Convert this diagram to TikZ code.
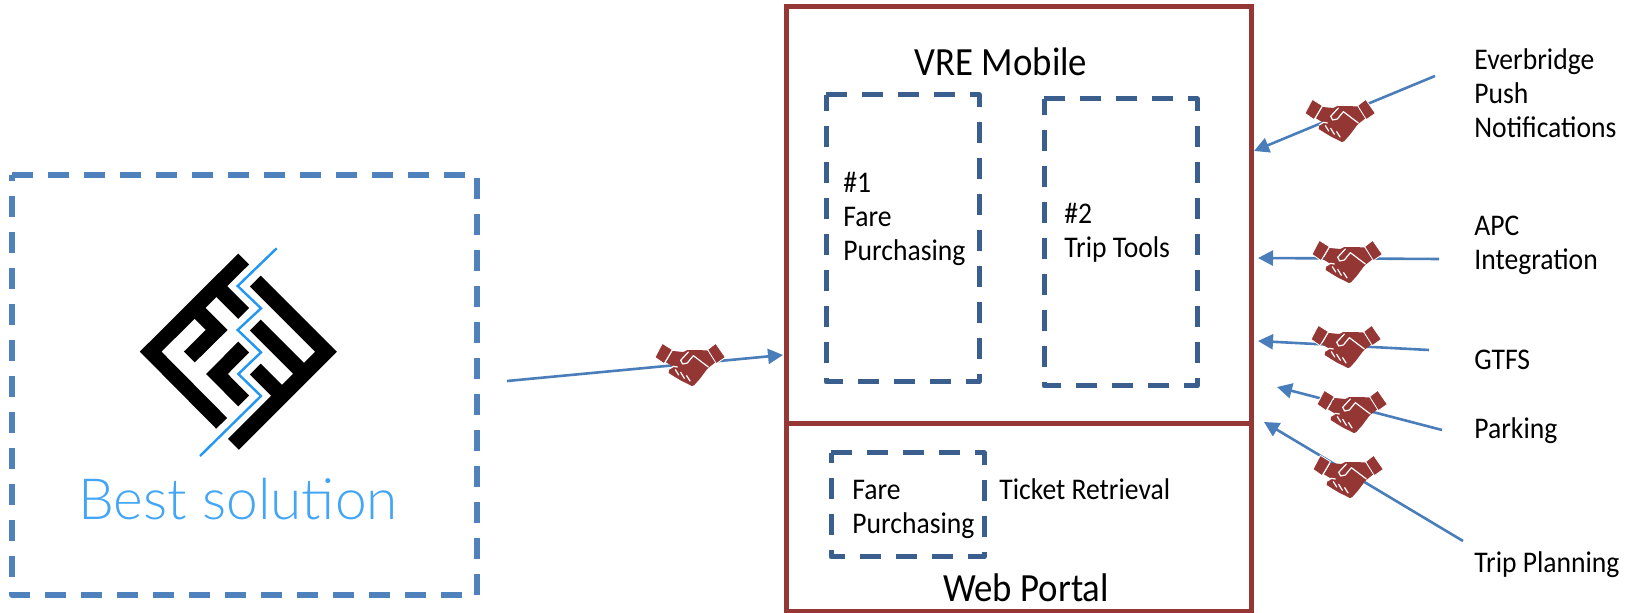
\documentclass[tikz,border=0pt]{standalone}
\usepackage{fontspec}
\usetikzlibrary{arrows.meta}
\setmainfont{Carlito}[FakeStretch=0.92]
\newfontfamily\lightf{Lato Light}
\definecolor{frred}{HTML}{953735}
\definecolor{hsred}{HTML}{943634}
\definecolor{dashdk}{HTML}{3A5F8F}
\definecolor{dashlt}{HTML}{4F81BD}
\definecolor{arrowb}{HTML}{4A7EBB}
\definecolor{logob}{HTML}{2196F3}
\definecolor{bestb}{HTML}{42A5F5}
\tikzset{
  x=0.5pt,y=-0.5pt,
  frame/.style={draw=frred,line width=2.5pt,line join=miter},
  dbox/.style={draw=dashdk,line width=2.5pt,line join=round,dash pattern=on 10.5pt off 7.5pt},
  dboxbig/.style={draw=dashlt,line width=2.7pt,line join=round,dash pattern=on 10.5pt off 7.5pt},
  link/.style={draw=arrowb,line width=1.3pt,-{Triangle[length=7.5pt,width=7.5pt]}},
  lab/.style={inner sep=0pt,anchor=west,align=left,font=\fontsize{15}{17}\selectfont,text=black},
  title/.style={inner sep=0pt,anchor=base,font=\fontsize{20}{24}\selectfont,text=black},
  maze/.style={draw=black,line width=7.67pt,line cap=butt,line join=miter},
  shake/.pic={
    \begin{scope}[x=0.16667pt,y=-0.16667pt]
      \fill[hsred] (-52,-36)--(-20,-33)--(-8,-39)--(52,-38)--(76,-2)--(56,14)--(50,20)--(30,47)--(12,67)--(5,69)--(-8,62)--(-25,54)--(-45,42)--(-64,30)--(-62,18)--(-52,10)--(-72,-2)--cycle;
      \fill[hsred,draw=white,line width=0.4pt] (-83,-59)--(-53,-40)--(-78,2)--(-105,-17)--cycle;
      \fill[hsred,draw=white,line width=0.4pt] (77,-59)--(106,-17)--(79,2)--(53,-40)--cycle;
      \draw[white,line width=0.6pt,line cap=round,line join=round]
        (-5,-33)--(-28,-8)--(-22,3)--(-8,0)--(10,-22)--(55,12);
      \draw[white,line width=0.6pt,line cap=round,line join=round]
        (-62,18)--(-50,10)--(-38,12);
      \draw[white,line width=0.6pt,line cap=round] (-44,20)--(-34,36);
      \draw[white,line width=0.6pt,line cap=round] (-28,28)--(-17,46);
      \draw[white,line width=0.6pt,line cap=round] (-10,38)--(0,54);
    \end{scope}
  }
}
\begin{document}
\begin{tikzpicture}
\useasboundingbox (0,0) rectangle (1633,613);
% boxes
\draw[dboxbig] (12,175)--(477,175)--(477,595)--(12,595)--cycle;
\draw[frame] (786,7) rectangle (1251,612);
\draw[frame] (786,424)--(1251,424);
\draw[dbox] (826,95)--(979,95)--(979,382)--(826,382)--cycle;
\draw[dbox] (1044,99)--(1197,99)--(1197,386)--(1044,386)--cycle;
\draw[dbox] (831,453)--(984,453)--(984,557)--(831,557)--cycle;
% logo
\begin{scope}[shift={(120,220)},x=0.16667pt,y=-0.16667pt]
  \draw[maze] (371,117)--(92,395)--(305,610);
  \draw[maze] (289,198)--(371,280);
  \draw[maze] (224,264)--(290,330)--(208,411);
  \draw[maze] (371,381)--(291,462)--(371,543);
  \draw[maze] (406,183)--(618,395)--(340,673);
  \draw[maze] (406,315)--(552,461);
  \draw[maze] (406,447)--(486,527);
  \draw[logob,line width=1.2pt,line join=miter] (470,85)--(353,198)--(423,265)--(353,330)--(423,397)--(355,462)--(423,528)--(240,708);
\end{scope}
% coordinates
\coordinate (a1s) at (507,381); \coordinate (a1e) at (783,355);
\coordinate (a2s) at (1435,76); \coordinate (a2e) at (1254,151);
\coordinate (a3s) at (1439,259); \coordinate (a3e) at (1258,258);
\coordinate (a4s) at (1429,350); \coordinate (a4e) at (1258,341);
\coordinate (a5s) at (1442,430); \coordinate (a5e) at (1277,387);
\coordinate (a6s) at (1463,541); \coordinate (a6e) at (1264,422);
\draw[link] (a1s)--(a1e);
\draw[link] (a2s)--(a2e);
\draw[link] (a3s)--(a3e);
\draw[link] (a4s)--(a4e);
\draw[link] (a5s)--(a5e);
\draw[link] (a6s)--(a6e);
% handshakes
\pic at (690,363) {shake};
\pic at (1340,119) {shake};
\pic at (1347,260) {shake};
\pic at (1346,345) {shake};
\pic at (1352,410) {shake};
\pic at (1348,475) {shake};
% text
\node[inner sep=0pt,anchor=base,text=bestb,font=\lightf\fontsize{28.4}{32}\selectfont] (best) at (238,520) {Best solution};
\node[title] (vre) at (1001,76) {VRE Mobile};
\node[title] (web) at (1026,602) {Web Portal};
\node[lab] (t1) at (843,219) {\#1\\Fare\\Purchasing};
\node[lab] (t2) at (1064,233) {\#2\\Trip Tools};
\node[lab] (t3) at (852,509) {Fare\\Purchasing};
\node[lab] (t4) at (999,489) {Ticket Retrieval};
\node[lab] (n1) at (1474,93) {Everbridge\\Push\\Notifications};
\node[lab] (n2) at (1474,245) {APC\\Integration};
\node[lab] (n3) at (1474,360) {GTFS};
\node[lab] (n4) at (1474,431) {Parking};
\node[lab] (n5) at (1474,565) {Trip Planning};
\end{tikzpicture}
\end{document}
